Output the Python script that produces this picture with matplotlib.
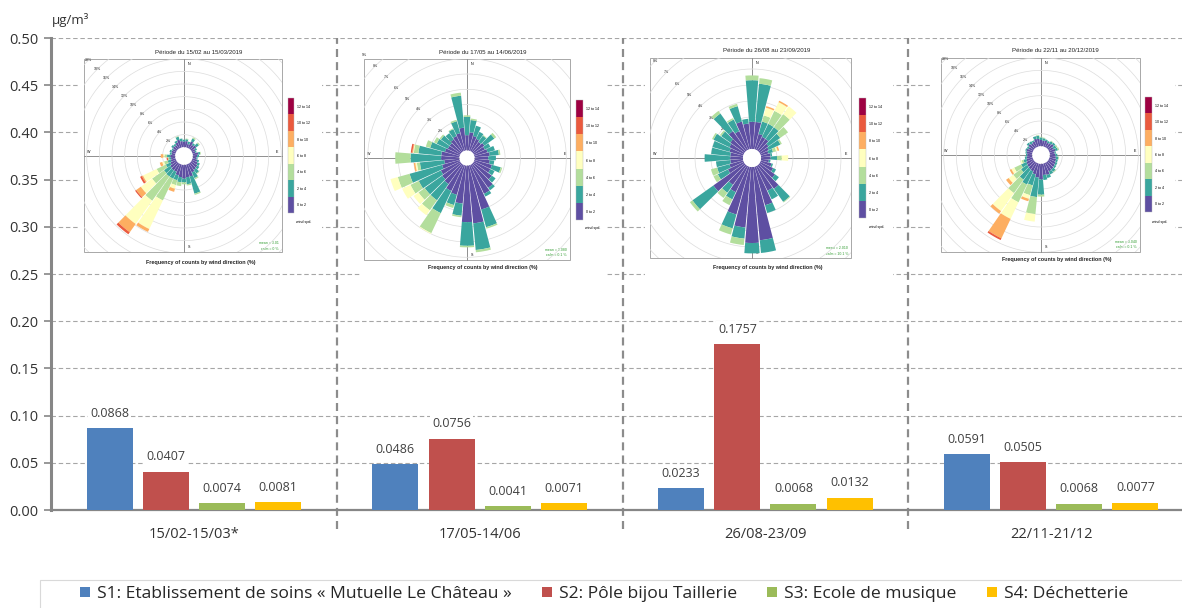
import numpy as np
import matplotlib
matplotlib.use("Agg")
import matplotlib as mpl
import matplotlib.pyplot as plt
from matplotlib.colors import ListedColormap, BoundaryNorm
from matplotlib.patches import Rectangle, Circle

W, H = 1182, 608
plt.rcParams['font.family'] = ['Open Sans', 'DejaVu Sans']

# ---------------- concentrations (µg/m³) ----------------
periods = ["15/02-15/03*", "17/05-14/06", "26/08-23/09", "22/11-21/12"]
site_names = ["S1: Etablissement de soins « Mutuelle Le Château »",
              "S2: Pôle bijou Taillerie",
              "S3: Ecole de musique",
              "S4: Déchetterie"]
site_colors = ["#4F81BD", "#C0504D", "#9BBB59", "#FFC000"]
s1_soins = [0.0868, 0.0486, 0.0233, 0.0591]
s2_bijou = [0.0407, 0.0756, 0.1757, 0.0505]
s3_musique = [0.0074, 0.0041, 0.0068, 0.0068]
s4_dechetterie = [0.0081, 0.0071, 0.0132, 0.0077]
sites = [s1_soins, s2_bijou, s3_musique, s4_dechetterie]
y_ticks = [0.00, 0.05, 0.10, 0.15, 0.20, 0.25, 0.30, 0.35, 0.40, 0.45, 0.50]

# ---------------- wind roses (frequency %, per 10° sector) ----------------
wind_dirs = np.arange(0, 360, 10)
speed_classes = ["0 to 2", "2 to 4", "4 to 6", "6 to 8", "8 to 10", "10 to 12", "12 to 14"]
speed_colors = ["#5E4FA2", "#3AA69E", "#B3DE9C", "#FFFFBF", "#FDAE61", "#EA5A3E", "#9E0142"]
rose_titles = ["Période du 15/02 au 15/03/2019", "Période du 17/05 au 14/06/2019",
               "Période du 26/08 au 23/09/2019", "Période du 22/11 au 20/12/2019"]
rose_mean = ["mean = 3.01", "mean = 2.080", "mean = 2.010", "mean = 3.040"]
rose_calm = ["calm = 0 %", "calm = 0.1 %", "calm = 10.1 %", "calm = 0.1 %"]
rose_rings = [[2, 4, 6, 8, 10, 12, 14, 16, 18, 20],
              [1, 2, 3, 4, 5, 6, 7, 8, 9],
              [1, 2, 3, 4, 5, 6, 7, 8],
              [2, 4, 6, 8, 10, 12, 14, 16, 18, 20]]

# columns: 0-2, 2-4, 4-6, 6-8, 8-10, 10-12, 12-14 ; rows: 0°, 10°, ... 350°
rose_feb = [
    [0.9, 0.3, 0, 0, 0, 0, 0], [1.0, 0.3, 0.1, 0, 0, 0, 0], [0.6, 0.4, 0, 0, 0, 0, 0],
    [1.2, 0.5, 0.2, 0, 0, 0, 0], [0.8, 0.3, 0, 0, 0, 0, 0], [1.0, 0.5, 0.2, 0, 0, 0, 0],
    [0.6, 0.3, 0, 0, 0, 0, 0], [0.5, 0.2, 0, 0, 0, 0, 0], [0.9, 0.3, 0.1, 0, 0, 0, 0],
    [0.7, 0.3, 0, 0, 0, 0, 0], [0.6, 0.2, 0, 0, 0, 0, 0], [0.8, 0.3, 0, 0, 0, 0, 0],
    [1.0, 0.4, 0, 0, 0, 0, 0], [1.2, 0.4, 0, 0, 0, 0, 0], [1.3, 0.7, 0.1, 0, 0, 0, 0],
    [1.5, 1.0, 0.2, 0, 0, 0, 0], [2.0, 2.8, 0.2, 0, 0, 0, 0], [2.0, 1.1, 0.2, 0, 0, 0, 0],
    [2.2, 0.6, 0.3, 0, 0, 0, 0], [2.0, 0.8, 0.6, 0, 0, 0, 0], [1.8, 0.8, 0.8, 0.6, 0.5, 0, 0],
    [1.4, 1.2, 3.8, 5.0, 0.5, 0, 0], [1.4, 1.2, 4.7, 4.5, 1.6, 0.4, 0], [1.3, 1.2, 2.3, 2.2, 0.9, 0.2, 0],
    [1.0, 0.8, 1.6, 2.4, 0.2, 0.3, 0], [0.8, 0.5, 0.6, 0.3, 0.4, 0, 0], [0.7, 0.3, 0.2, 0, 0, 0.2, 0],
    [0.8, 0.5, 0.4, 0.2, 0.4, 0, 0], [0.6, 0.3, 0, 0, 0, 0, 0], [0.7, 0.3, 0, 0, 0, 0, 0],
    [0.6, 0.2, 0, 0, 0, 0, 0], [0.8, 0.3, 0, 0, 0, 0, 0], [0.7, 0.3, 0, 0, 0, 0, 0],
    [1.0, 0.3, 0, 0, 0, 0, 0], [1.3, 0.5, 0.1, 0, 0, 0, 0], [1.0, 0.4, 0, 0, 0, 0, 0],
]
rose_may = [
    [1.0, 1.2, 0.1, 0, 0, 0, 0], [1.2, 0.8, 0.1, 0, 0, 0, 0], [1.0, 0.7, 0, 0, 0, 0, 0],
    [0.9, 0.5, 0, 0, 0, 0, 0], [0.8, 0.5, 0.05, 0, 0, 0, 0], [0.9, 0.8, 0.15, 0, 0, 0, 0],
    [0.8, 0.4, 0, 0, 0, 0, 0], [0.9, 0.5, 0, 0, 0, 0, 0], [1.0, 0.6, 0.1, 0, 0, 0, 0],
    [0.9, 0.5, 0, 0, 0, 0, 0], [1.0, 0.3, 0, 0, 0, 0, 0], [1.2, 0.6, 0.1, 0, 0, 0, 0],
    [1.2, 0.3, 0, 0, 0, 0, 0], [1.5, 0.3, 0, 0, 0, 0, 0], [1.9, 0.2, 0, 0, 0, 0, 0],
    [2.1, 0.2, 0, 0, 0, 0, 0], [3.0, 1.2, 0.1, 0, 0, 0, 0], [3.8, 1.75, 0.15, 0, 0, 0, 0],
    [3.7, 1.55, 0.1, 0, 0, 0, 0], [2.5, 0.8, 0.1, 0, 0, 0, 0], [2.0, 0.7, 0.2, 0, 0, 0, 0],
    [1.9, 1.6, 1.45, 0.05, 0, 0, 0], [1.6, 1.3, 0.8, 0.4, 0, 0, 0], [1.5, 1.4, 0.5, 0.4, 0, 0, 0],
    [1.4, 1.6, 0.6, 0.6, 0, 0, 0], [1.2, 2.2, 0.8, 0.5, 0, 0, 0], [1.0, 1.6, 0.2, 0.1, 0.1, 0, 0],
    [1.2, 2.0, 1.0, 0, 0, 0, 0], [1.2, 1.5, 0.3, 0.05, 0.05, 0.1, 0], [1.0, 1.0, 0.3, 0, 0, 0, 0],
    [0.9, 0.8, 0.2, 0, 0, 0, 0], [0.9, 0.7, 0.1, 0, 0, 0, 0], [1.0, 0.5, 0, 0, 0, 0, 0],
    [1.1, 0.5, 0.05, 0, 0, 0, 0], [1.2, 0.8, 0.1, 0, 0, 0, 0], [1.5, 2.1, 0.2, 0, 0, 0, 0],
]
rose_aug = [
    [1.7, 2.6, 0.3, 0, 0, 0, 0], [1.7, 2.4, 0.35, 0, 0, 0, 0], [1.0, 0.8, 0.4, 0.5, 0.1, 0, 0],
    [0.9, 0.9, 0.9, 0.6, 0.1, 0, 0], [0.9, 0.9, 1.0, 0.6, 0, 0, 0], [0.7, 0.9, 0.6, 0, 0, 0, 0],
    [0.6, 0.8, 0.1, 0, 0, 0, 0], [0.5, 0.3, 0.2, 0.1, 0.1, 0, 0], [0.6, 0.1, 0, 0, 0, 0, 0],
    [0.6, 0.4, 0.3, 0.4, 0, 0, 0], [0.5, 0.1, 0, 0, 0, 0, 0], [0.7, 0.1, 0, 0, 0, 0, 0],
    [0.9, 0.2, 0, 0, 0, 0, 0], [1.2, 0.3, 0, 0, 0, 0, 0], [1.8, 1.0, 0.05, 0, 0, 0, 0],
    [1.7, 0.6, 0, 0, 0, 0, 0], [2.5, 0.5, 0, 0, 0, 0, 0], [4.6, 0.8, 0, 0, 0, 0, 0],
    [4.75, 0.65, 0, 0, 0, 0, 0], [3.8, 0.7, 0.4, 0, 0, 0, 0], [3.1, 0.9, 0.4, 0, 0, 0, 0],
    [1.8, 0.5, 0.4, 0, 0, 0, 0], [1.5, 0.6, 0.4, 0, 0, 0, 0], [2.4, 1.6, 0.2, 0, 0, 0, 0],
    [1.1, 0.7, 0.3, 0, 0, 0, 0], [0.9, 0.8, 0.4, 0, 0, 0, 0], [0.8, 0.9, 0, 0, 0, 0, 0],
    [0.8, 1.6, 0, 0, 0, 0, 0], [0.8, 1.2, 0, 0, 0, 0, 0], [0.9, 1.1, 0, 0, 0, 0, 0],
    [1.0, 1.1, 0.1, 0, 0, 0, 0], [1.1, 0.7, 0.1, 0, 0, 0, 0], [1.5, 1.35, 0.2, 0, 0, 0, 0],
    [1.3, 0.8, 0.1, 0, 0, 0, 0], [1.8, 1.0, 0.15, 0, 0, 0, 0], [1.6, 0.3, 0, 0, 0, 0, 0],
]
rose_nov = [
    [1.0, 0.4, 0.1, 0, 0, 0, 0], [0.9, 0.4, 0.1, 0, 0, 0, 0], [1.0, 0.2, 0, 0, 0, 0, 0],
    [0.8, 0.3, 0, 0, 0, 0, 0], [0.9, 0.4, 0.1, 0, 0, 0, 0], [1.1, 0.3, 0, 0, 0, 0, 0],
    [0.8, 0.5, 0.2, 0, 0, 0, 0], [1.0, 0.4, 0.2, 0, 0, 0, 0], [0.8, 0.2, 0, 0, 0, 0, 0],
    [0.9, 0.3, 0, 0, 0, 0, 0], [1.0, 0.4, 0.1, 0, 0, 0, 0], [1.1, 0.3, 0, 0, 0, 0, 0],
    [1.2, 0.3, 0, 0, 0, 0, 0], [1.3, 0.3, 0, 0, 0, 0, 0], [1.4, 0.5, 0.1, 0, 0, 0, 0],
    [1.5, 0.5, 0, 0, 0, 0, 0], [1.9, 0.5, 0, 0, 0, 0, 0], [1.8, 0.8, 0, 0, 0, 0, 0],
    [2.5, 2.4, 0.3, 0, 0, 0, 0], [2.2, 3.1, 2.7, 1.2, 0, 0, 0], [1.8, 1.8, 1.6, 0.6, 0.4, 0, 0],
    [1.5, 2.3, 3.1, 2.9, 3.4, 0.3, 0], [1.4, 2.0, 2.6, 3.5, 0.5, 0, 0], [1.3, 1.2, 1.5, 0.9, 0.5, 0, 0],
    [1.2, 0.9, 1.2, 0.5, 0.3, 0, 0], [1.0, 0.5, 0.3, 0.2, 0, 0, 0], [0.9, 0.3, 0, 0, 0, 0, 0],
    [0.8, 0.2, 0, 0, 0, 0, 0], [0.9, 0.2, 0, 0, 0, 0, 0], [1.0, 0.2, 0, 0, 0, 0, 0],
    [0.8, 0.3, 0, 0, 0, 0, 0], [1.1, 0.3, 0, 0, 0, 0, 0], [0.9, 0.4, 0, 0, 0, 0, 0],
    [1.0, 0.2, 0, 0, 0, 0, 0], [1.3, 0.4, 0, 0, 0, 0, 0], [1.2, 0.5, 0.1, 0, 0, 0, 0],
]
roses = [rose_feb, rose_may, rose_aug, rose_nov]

# placement of each wind-rose panel, in pixels from the top-left corner
rose_layout = [
    dict(panel=(78, 40, 322, 272), box=(84, 59, 282, 252), center=(184, 156), scale=6.33, hole=8.7,
         cbar=(288, 98, 294, 213), title=(199, 52), freq=(201, 262), wspd=(296, 222), stats=(279, 243)),
    dict(panel=(362, 42, 606, 279), box=(364, 59, 570, 260), center=(467, 158), scale=15.3, hole=7.5,
         cbar=(576, 100, 583, 220), title=(483, 53), freq=(483, 268), wspd=(585, 228), stats=(567, 250)),
    dict(panel=(645, 40, 893, 277), box=(650, 58, 851, 258), center=(752, 158), scale=16.0, hole=9.0,
         cbar=(859, 98, 866, 218), title=(767, 51), freq=(768, 267), wspd=(869, 227), stats=(848, 248)),
    dict(panel=(930, 40, 1175, 271), box=(941, 58, 1140, 252), center=(1041, 155), scale=6.33, hole=8.7,
         cbar=(1145, 97, 1152, 212), title=(1055, 51), freq=(1057, 260), wspd=(1152, 222), stats=(1137, 242)),
]


def px_rect(x0, y0, x1, y1):
    return [x0 / W, 1 - y1 / H, (x1 - x0) / W, (y1 - y0) / H]


fig = plt.figure(figsize=(W / 100, H / 100), dpi=100)
fig.patch.set_facecolor('white')

# ---------------- grouped bar chart ----------------
ax = fig.add_axes(px_rect(51, 38, 1194, 510), zorder=1)
x = np.arange(len(periods))
bar_w = 0.161
offsets = [-0.295, -0.098, 0.098, 0.295]
handles = []
for vals, name, col, off in zip(sites, site_names, site_colors, offsets):
    bars = ax.bar(x + off, vals, width=bar_w, color=col, label=name, zorder=3)
    handles.append(bars)
    ax.bar_label(bars, labels=[f"{v:.4f}" for v in vals], padding=6, fontsize=9,
                 color='#404040', zorder=4,
                 bbox=dict(facecolor='white', edgecolor='none', pad=1.5))

ax.set_xlim(-0.5, len(periods) - 0.5)
ax.set_ylim(0, 0.5)
ax.set_yticks(y_ticks)
ax.set_yticklabels([f"{t:.2f}" for t in y_ticks], fontsize=10.5, color='#333333')
ax.set_xticks(x)
ax.set_xticklabels(periods, fontsize=10.5, color='#333333')
ax.tick_params(axis='x', length=0, pad=12)
ax.tick_params(axis='y', length=5, width=1.2, color='#868686', direction='out', pad=4)
ax.yaxis.grid(True, color='#a6a6a6', linestyle=(0, (4, 2.5)), linewidth=0.8, zorder=0)
ax.set_axisbelow(True)
for side in ('top', 'right'):
    ax.spines[side].set_visible(False)
ax.spines['left'].set_color('#868686')
ax.spines['left'].set_linewidth(2.2)
ax.spines['bottom'].set_color('#868686')
ax.spines['bottom'].set_linewidth(1.6)
ax.vlines(x[:-1] + 0.5, -0.02, 0.5, colors='#8c8c8c', linewidth=1.6,
          linestyles=(0, (3.6, 2.3)), clip_on=False, zorder=2)
fig.text(52 / W, 1 - 20 / H, "µg/m³", fontsize=9.5, color='#333333', va='center', ha='left')

# legend: light frame running off the bottom-right edge, entries on one row
fig.add_artist(Rectangle((40 / W, 1 - 640 / H), 1180 / W, 60 / H, transform=fig.transFigure,
                         fill=False, edgecolor='#d9d9d9', linewidth=0.8))
fig.legend(handles=handles, labels=site_names, loc='center left',
           bbox_to_anchor=(80 / W, 1 - 594 / H), ncol=4, fontsize=12.6, frameon=False,
           handlelength=0.55, handleheight=0.55, handletextpad=0.4, columnspacing=1.75,
           borderpad=0, borderaxespad=0, labelcolor='#262626')

# ---------------- wind-rose panels ----------------
small = ['Liberation Sans', 'DejaVu Sans']
cmap = ListedColormap(speed_colors)
norm = BoundaryNorm(np.arange(len(speed_classes) + 1), len(speed_classes))

for freq, title, mean_txt, calm_txt, rings, lay in zip(roses, rose_titles, rose_mean,
                                                       rose_calm, rose_rings, rose_layout):
    px0, py0, px1, py1 = lay['panel']
    panel = fig.add_axes(px_rect(*lay['panel']), zorder=3)
    panel.set_xlim(px0, px1)
    panel.set_ylim(py1, py0)
    panel.set_xticks([])
    panel.set_yticks([])
    for s in panel.spines.values():
        s.set_visible(False)
    panel.set_facecolor('white')

    bx0, by0, bx1, by1 = lay['box']
    cx, cy = lay['center']
    panel.add_patch(Rectangle((bx0, by0), bx1 - bx0, by1 - by0, fill=False,
                              edgecolor='#a8a8a8', linewidth=0.7))
    panel.plot([bx0, bx1], [cy, cy], color='#8f8f8f', linewidth=0.7)
    panel.plot([cx, cx], [by0, by1], color='#8f8f8f', linewidth=0.7)
    panel.add_patch(Circle((cx, cy), lay['hole'], facecolor='white', edgecolor='none', zorder=5))
    panel.text(cx + 4, by0 + 5, "N", fontsize=2.6, family=small, ha='left', va='center')
    panel.text(cx + 4, by1 - 5, "S", fontsize=2.6, family=small, ha='left', va='center')
    panel.text(bx1 - 5, cy - 4, "E", fontsize=2.6, family=small, ha='center', va='center')
    panel.text(bx0 + 5, cy - 4, "W", fontsize=2.6, family=small, ha='center', va='center')
    panel.text(*lay['title'], title, fontsize=4.4, family=small, ha='center', va='center',
               color='#222222')
    panel.text(*lay['freq'], "Frequency of counts by wind direction (%)", fontsize=3.9,
               family=small, weight='bold', ha='center', va='center', color='#222222')
    panel.text(*lay['wspd'], "wind spd.", fontsize=2.6, family=small, ha='left', va='center')
    sx, sy = lay['stats']
    panel.text(sx, sy, mean_txt, fontsize=2.5, family=small, ha='right', va='center',
               color='#2E9B2E')
    panel.text(sx, sy + 5.5, calm_txt, fontsize=2.5, family=small, ha='right', va='center',
               color='#2E9B2E')

    clip = Rectangle((bx0, by0), bx1 - bx0, by1 - by0, transform=panel.transData)

    R = 150
    pol = fig.add_axes(px_rect(cx - R, cy - R, cx + R, cy + R), projection='polar', zorder=4)
    pol.patch.set_visible(False)
    for sp in pol.spines.values():
        sp.set_visible(False)
        sp.set_linewidth(0)
        sp.set_edgecolor('none')
    pol.grid(False)
    pol.set_xticks([])
    pol.set_yticks([])
    pol.set_theta_zero_location('N')
    pol.set_theta_direction(-1)
    hole = lay['hole'] / lay['scale']
    pol.set_rorigin(-hole)
    pol.set_ylim(0, R / lay['scale'] - hole)

    ring_theta = np.linspace(0, 2 * np.pi, 361)
    for r in rings:
        ln, = pol.plot(ring_theta, np.full_like(ring_theta, r), color='#dcdcdc', linewidth=0.5)
        ln.set_clip_path(clip)
        lbl = pol.text(np.deg2rad(315), r, f"{r}%", fontsize=2.6, family=small,
                       ha='center', va='center', color='#222222')
        lbl.set_clip_path(clip)

    data = np.array(freq)
    theta = np.deg2rad(wind_dirs)
    bottom = np.zeros(len(wind_dirs))
    for k, col in enumerate(speed_colors):
        pol.bar(theta, data[:, k], width=np.deg2rad(9.2), bottom=bottom, color=col,
                edgecolor='none', linewidth=0, zorder=3)
        bottom = bottom + data[:, k]

    cax = fig.add_axes(px_rect(*lay['cbar']), zorder=4)
    cb = fig.colorbar(mpl.cm.ScalarMappable(norm=norm, cmap=cmap), cax=cax,
                      ticks=np.arange(len(speed_classes)) + 0.5)
    cb.set_ticklabels(speed_classes)
    cb.minorticks_off()
    cb.outline.set_linewidth(0.3)
    cb.outline.set_edgecolor('#bbbbbb')
    cax.tick_params(which='both', length=0, labelsize=2.6, pad=2)
    for t in cax.get_yticklabels():
        t.set_family(small)

fig.savefig("out.png", dpi=100)
